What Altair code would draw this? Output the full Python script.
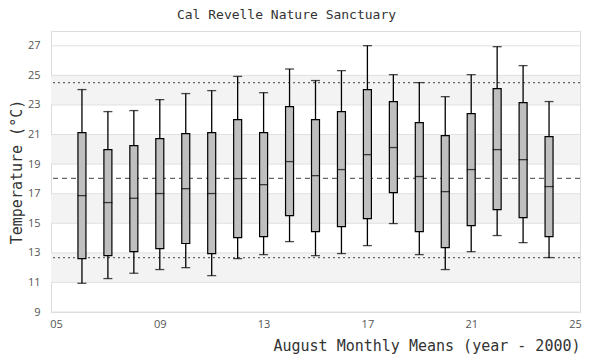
import altair as alt
import pandas as pd

# ---- data ----
years = [6, 7, 8, 9, 10, 11, 12, 13, 14, 15, 16, 17, 18, 19, 20, 21, 22, 23, 24]
whisker_lo = [10.94, 11.26, 11.62, 11.87, 12.00, 11.46, 12.61, 12.88, 13.76, 12.81,
              12.95, 13.49, 14.98, 12.88, 11.87, 13.08, 14.17, 13.69, 12.68]
box_lo = [12.61, 12.81, 13.08, 13.29, 13.63, 12.95, 14.03, 14.10, 15.52, 14.44,
          14.77, 15.32, 17.07, 14.44, 13.35, 14.84, 15.92, 15.38, 14.10]
median = [16.87, 16.40, 16.69, 17.01, 17.34, 17.01, 18.02, 17.61, 19.17, 18.22,
          18.63, 19.64, 20.12, 18.16, 17.14, 18.63, 19.98, 19.30, 17.48]
box_hi = [21.13, 19.98, 20.25, 20.72, 21.06, 21.13, 22.01, 21.13, 22.89, 22.01,
          22.55, 24.04, 23.23, 21.81, 20.93, 22.41, 24.10, 23.16, 20.86]
whisker_hi = [24.04, 22.55, 22.62, 23.36, 23.77, 23.97, 24.93, 23.83, 25.43, 24.65,
              25.32, 27.01, 25.05, 24.51, 23.56, 25.05, 26.94, 25.66, 23.23]

band_lo = [11, 15, 19, 23]
band_hi = [13, 17, 21, 25]
grid_vals = [9, 11, 13, 15, 17, 19, 21, 23, 25, 27]
x_ticks = [5, 9, 13, 17, 21, 25]
dotted_vals = [24.51, 12.68]
dashed_vals = [18.04]

df = pd.DataFrame({"yr": years, "wlo": whisker_lo, "q1": box_lo, "med": median,
                   "q3": box_hi, "whi": whisker_hi})
bands = pd.DataFrame({"lo": band_lo, "hi": band_hi})
grid = pd.DataFrame({"g": grid_vals})
dots = pd.DataFrame({"v": dotted_vals})
dash = pd.DataFrame({"v": dashed_vals})

W, H = 529, 281
xs = alt.Scale(domain=[5, 25], nice=False, zero=False)
ys = alt.Scale(domain=[9, 28], nice=False, zero=False)

MONO = "DejaVu Sans Mono"
SANS = "Open Sans"
X_TITLE = "August Monthly Means (year - 2000)"
Y_TITLE = "Temperature (°C)"

x_axis = alt.Axis(values=x_ticks,
                  labelExpr="datum.value < 10 ? '0' + datum.value : '' + datum.value",
                  title=X_TITLE, grid=False, domain=False,
                  ticks=False, labelPadding=6, labelFont=SANS, labelFontSize=11,
                  labelColor="#555555", titleFont=MONO, titleFontSize=15,
                  titleFontWeight="normal", titleColor="#333333", titleAnchor="end",
                  titlePadding=9)
y_axis = alt.Axis(values=grid_vals, title=Y_TITLE, grid=False, domain=False,
                  ticks=False, labelPadding=11, labelFont=SANS, labelFontSize=11,
                  labelColor="#555555", titleFont=MONO, titleFontSize=15,
                  titleFontWeight="normal", titleColor="#333333", titlePadding=3)


def X(field):
    return alt.X(field, scale=xs, axis=x_axis, title=X_TITLE)


def Y(field):
    return alt.Y(field, scale=ys, axis=y_axis, title=Y_TITLE)


band_layer = alt.Chart(bands).mark_rect(color="#f3f3f3").encode(
    x=alt.value(0), x2=alt.value(W), y=Y("lo:Q"), y2="hi:Q")

grid_layer = alt.Chart(grid).mark_rule(color="#e0e0e0", strokeWidth=1).encode(
    y=Y("g:Q"))

dot_layer = alt.Chart(dots).mark_rule(color="#666666", strokeWidth=1.2,
                                      strokeDash=[2, 3]).encode(y=Y("v:Q"))

dash_layer = alt.Chart(dash).mark_rule(color="#666666", strokeWidth=1.2,
                                       strokeDash=[5, 4]).encode(y=Y("v:Q"))

base = alt.Chart(df)
whisk = base.mark_rule(color="black", strokeWidth=1.3).encode(
    x=X("yr:Q"), y=Y("wlo:Q"), y2="whi:Q")
cap_lo = base.mark_tick(orient="horizontal", size=9, thickness=1.3, color="black").encode(
    x=X("yr:Q"), y=Y("wlo:Q"))
cap_hi = base.mark_tick(orient="horizontal", size=9, thickness=1.3, color="black").encode(
    x=X("yr:Q"), y=Y("whi:Q"))
boxes = base.mark_bar(size=8, fill="#bfbfbf", stroke="black", strokeWidth=1.2).encode(
    x=X("yr:Q"), y=Y("q1:Q"), y2="q3:Q")
meds = base.mark_tick(orient="horizontal", size=9, thickness=1.3, color="black").encode(
    x=X("yr:Q"), y=Y("med:Q"))

chart = alt.layer(band_layer, grid_layer, dot_layer, dash_layer, whisk, cap_lo, cap_hi,
                  boxes, meds).properties(
    width=W, height=H,
    title=alt.TitleParams("Cal Revelle Nature Sanctuary", font=MONO, fontSize=13,
                          fontWeight="normal", color="#333333", anchor="middle",
                          dx=-29, offset=9),
    padding={"left": 43, "top": 23, "right": 12, "bottom": 44},
    autosize=alt.AutoSizeParams(type="none"),
).configure_view(stroke="#dcdcdc", strokeWidth=1)

chart.save("out.html", embed_options={"renderer": "svg", "actions": False})
